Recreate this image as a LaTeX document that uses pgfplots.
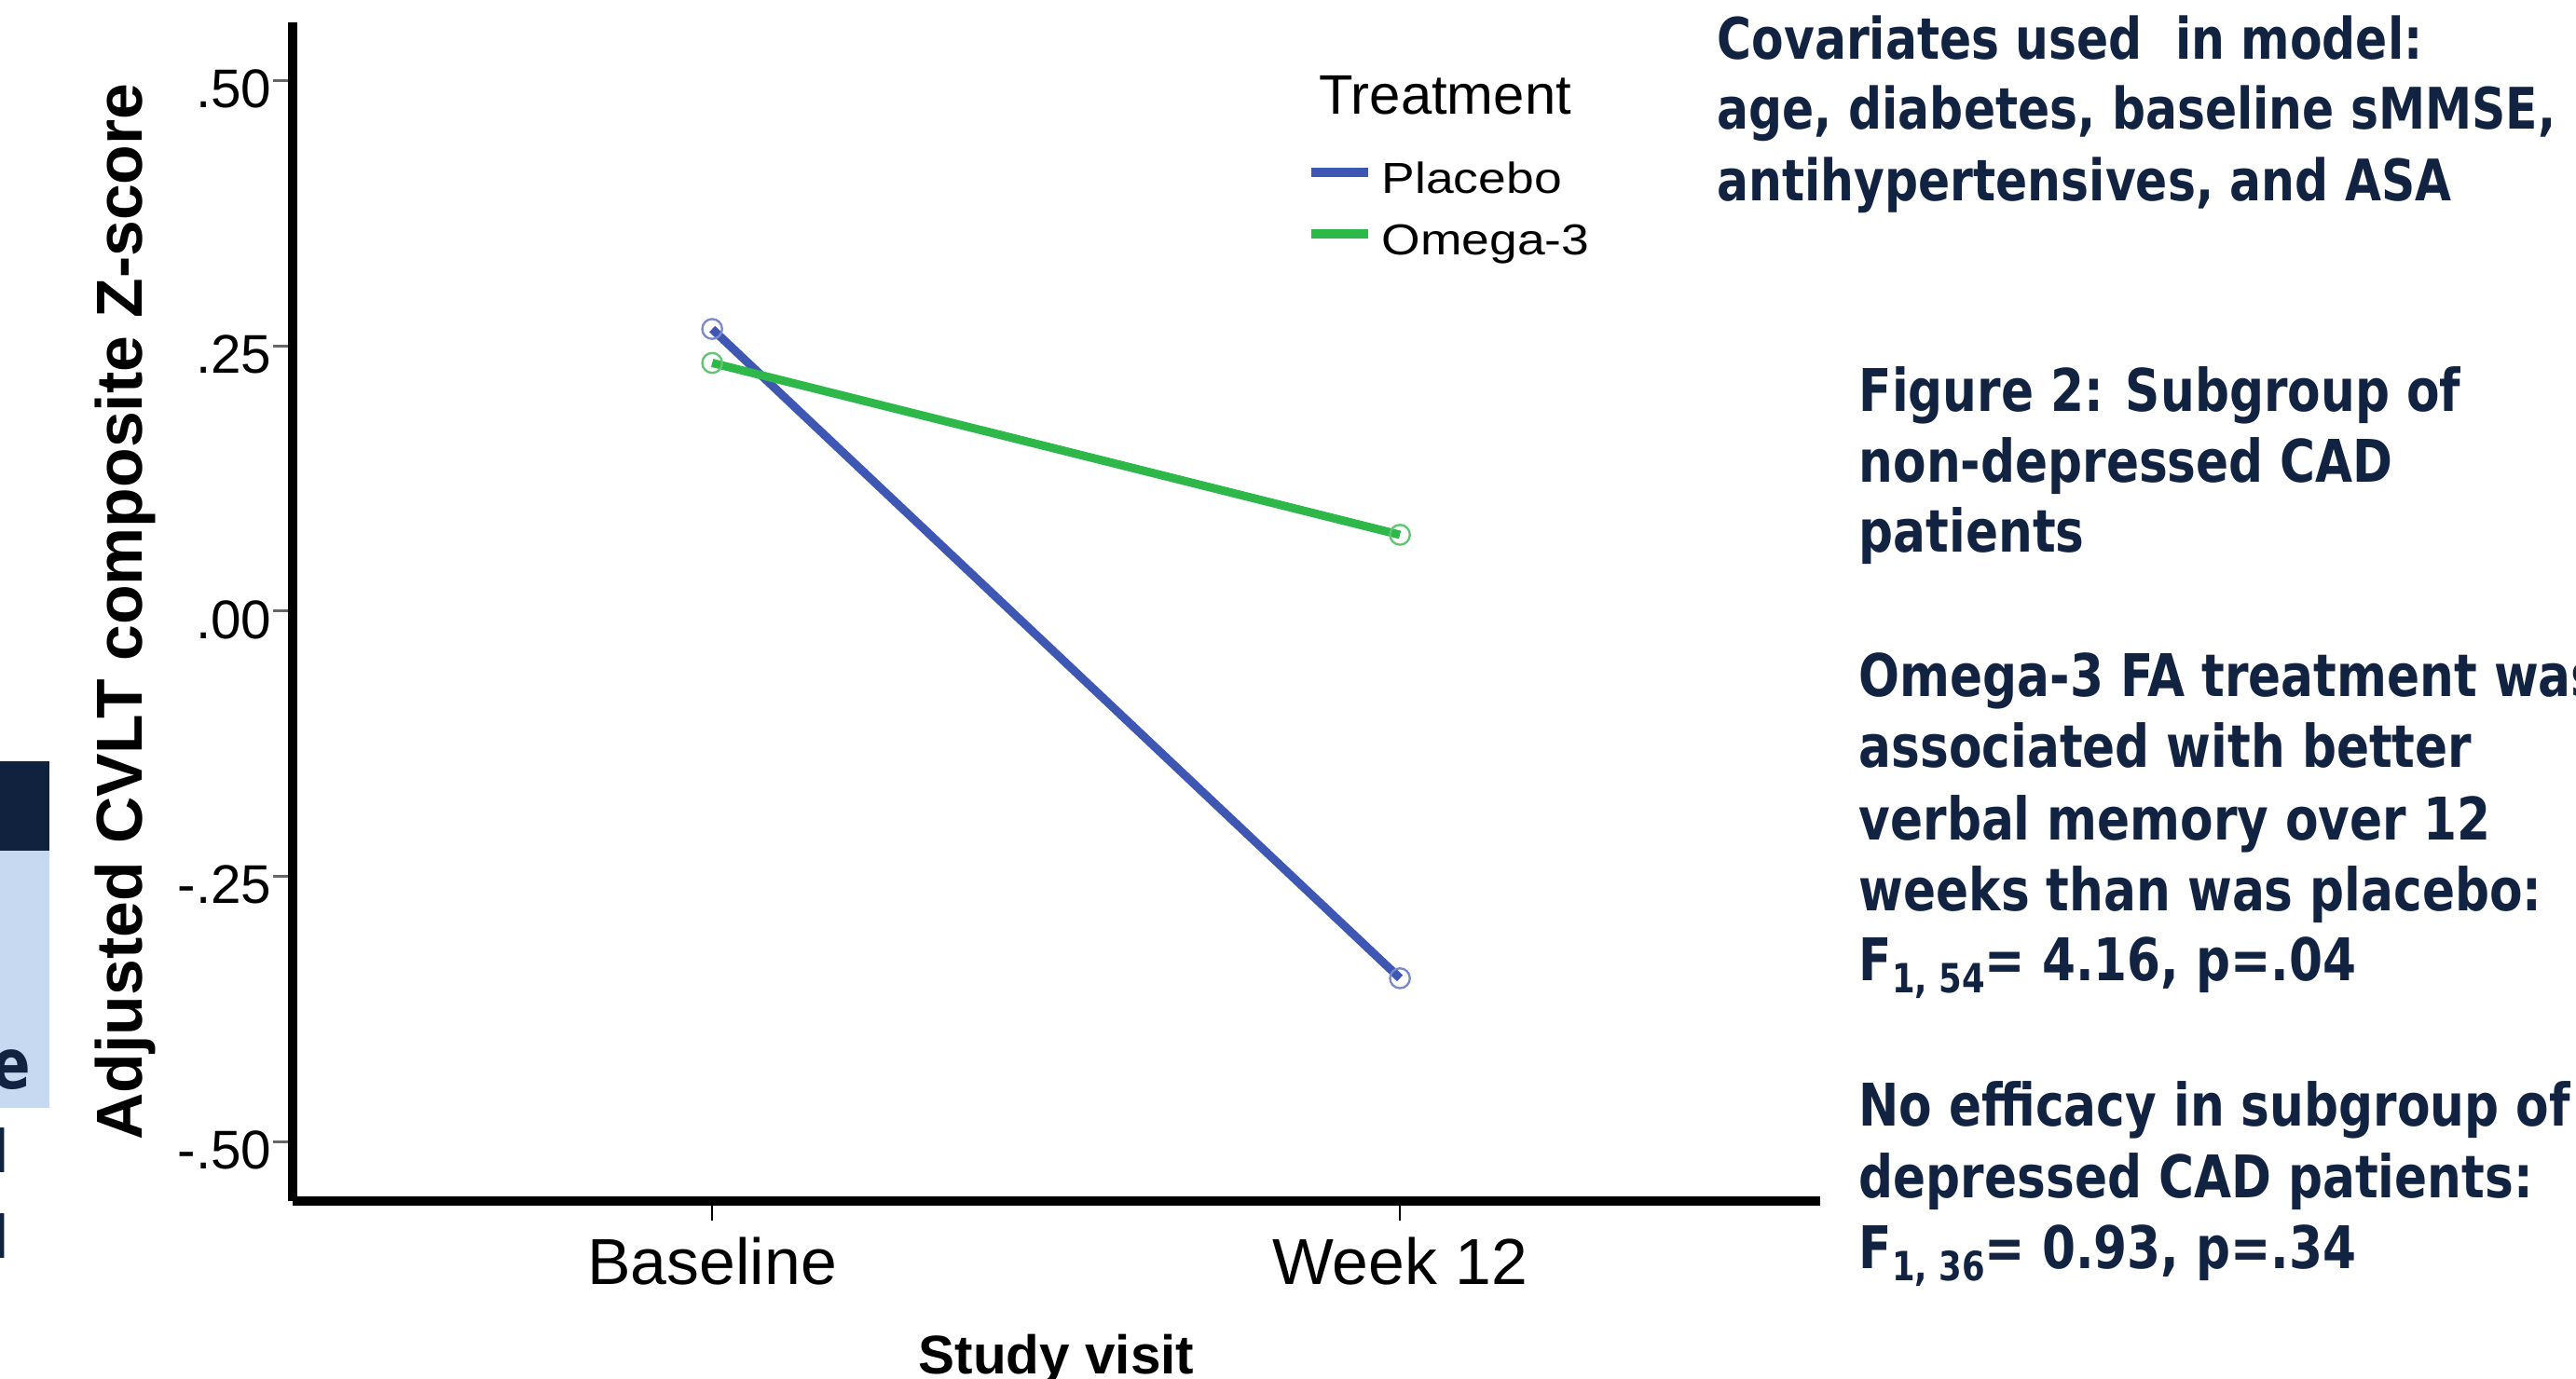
\documentclass[border=0pt]{standalone}
\usepackage{fontspec}
\setmainfont{Liberation Sans}
\newfontfamily\navyfont{DejaVu Sans}[FakeStretch=0.82]
\newfontfamily\legfont{Liberation Sans}[FakeStretch=1.15]
\usepackage{pgfplots}
\pgfplotsset{compat=1.18}
\definecolor{plac}{RGB}{62,87,178}
\definecolor{omeg}{RGB}{46,184,74}
\definecolor{placm}{RGB}{120,138,205}
\definecolor{omegm}{RGB}{95,198,112}
\definecolor{navy}{RGB}{17,35,64}
\definecolor{lblue}{RGB}{198,217,241}
\definecolor{dnavy}{RGB}{16,34,61}
\newcommand\rtA[2]{\node[anchor=base west, inner sep=0pt, text=navy, font=\navyfont\bfseries\fontsize{18.5}{18.5}\selectfont] at (552.6bp,-#1bp) {#2};}
\newcommand\rtB[2]{\node[anchor=base west, inner sep=0pt, text=navy, font=\navyfont\bfseries\fontsize{19}{19}\selectfont] at (598.2bp,-#1bp) {#2};}
\begin{document}
\begin{tikzpicture}
\useasboundingbox (0bp,0bp) rectangle (829.2bp,-444bp);
\clip (0bp,0bp) rectangle (829.2bp,-444bp);
\fill[white] (0bp,0bp) rectangle (829.2bp,-444bp);
% fragments at left edge
\fill[dnavy] (0bp,-245bp) rectangle (16bp,-274bp);
\fill[lblue] (0bp,-274bp) rectangle (16bp,-356.7bp);
\node[anchor=base east, inner sep=0pt, text=navy, font=\navyfont\bfseries\fontsize{22.5}{22.5}\selectfont] at (10.1bp,-350.4bp) {e};
\node[anchor=base east, inner sep=0pt, text=navy, font=\navyfont\bfseries\fontsize{19}{19}\selectfont] at (2.9bp,-377.4bp) {l};
\node[anchor=base east, inner sep=0pt, text=navy, font=\navyfont\bfseries\fontsize{19}{19}\selectfont] at (2.9bp,-405bp) {l};
\begin{axis}[
  at={(94.2bp,-386.7bp)}, anchor=south west,
  scale only axis, width=491.7bp, height=379.5bp,
  xmin=-0.61, xmax=1.611, ymin=-0.556, ymax=0.555,
  axis x line*=bottom, axis y line*=left,
  axis line style={line width=3bp, -},
  xtick={0,1}, xticklabels={Baseline,Week 12},
  ytick={-0.5,-0.25,0,0.25,0.5}, yticklabels={-.50,-.25,.00,.25,.50},
  tick align=outside, major tick length=6.3bp,
  xtick style={black, line width=0.6bp},
  ytick style={black!60, line width=0.9bp},
  xticklabel style={inner sep=0pt, text height=15bp, yshift=-5.4bp, font=\fontsize{21}{21}\selectfont},
  yticklabel style={inner sep=0pt, xshift=-0.3bp, yshift=-2.7bp, font=\fontsize{17.6}{17.6}\selectfont},
  xlabel={Study visit},
  xlabel style={at={(axis description cs:0.5,-0.147)}, anchor=base, inner sep=0pt, font=\bfseries\fontsize{17.6}{17.6}\selectfont},
  ylabel={Adjusted CVLT composite Z-score},
  ylabel style={at={(axis description cs:-0.0988,0.5)}, anchor=base, inner sep=0pt, font=\bfseries\fontsize{21}{21}\selectfont},
  clip=false,
  legend cell align=left,
  legend image code/.code={\path (0,0); \draw[#1, line width=3bp] (0bp,2.4bp) -- (18.3bp,2.4bp);},
  legend style={at={(axis description cs:0.6632,0.887)}, anchor=north west, draw=none, fill=none, inner sep=0pt, row sep=4.8bp, column sep=3bp,
    font=\legfont\fontsize{14}{14}\selectfont,
    nodes={inner sep=0pt, text height=12bp, text depth=3bp}},
]
\addplot[plac, line width=2.7bp, mark=o, mark size=3.2bp, mark options={draw=placm, line width=0.7bp, fill=none}]
  coordinates {(0,0.266) (1,-0.346)};
\addlegendentry{Placebo}
\addplot[omeg, line width=2.7bp, mark=o, mark size=3.2bp, mark options={draw=omegm, line width=0.7bp, fill=none}]
  coordinates {(0,0.234) (1,0.072)};
\addlegendentry{Omega-3}
\end{axis}
\node[anchor=base west, inner sep=0pt, font=\fontsize{18}{18}\selectfont] at (424.5bp,-36.6bp) {Treatment};
% right-hand text
\rtA{18.9}{Covariates used~ in model:}
\rtA{41.4}{age, diabetes, baseline sMMSE,}
\rtA{64.5}{antihypertensives, and ASA}
\rtB{132.3}{Figure 2: Subgroup of}
\rtB{155.1}{non-depressed CAD}
\rtB{177.6}{patients}
\rtB{224.1}{Omega-3 FA treatment was}
\rtB{246.9}{associated with better}
\rtB{270.3}{verbal memory over 12}
\rtB{293.1}{weeks than was placebo:}
\rtB{315.6}{F\raisebox{-4bp}{\fontsize{13}{13}\selectfont 1, 54}= 4.16, p=.04}
\rtB{362.4}{No efficacy in subgroup of}
\rtB{385.5}{depressed CAD patients:}
\rtB{408.3}{F\raisebox{-4bp}{\fontsize{13}{13}\selectfont 1, 36}= 0.93, p=.34}
\end{tikzpicture}
\end{document}
